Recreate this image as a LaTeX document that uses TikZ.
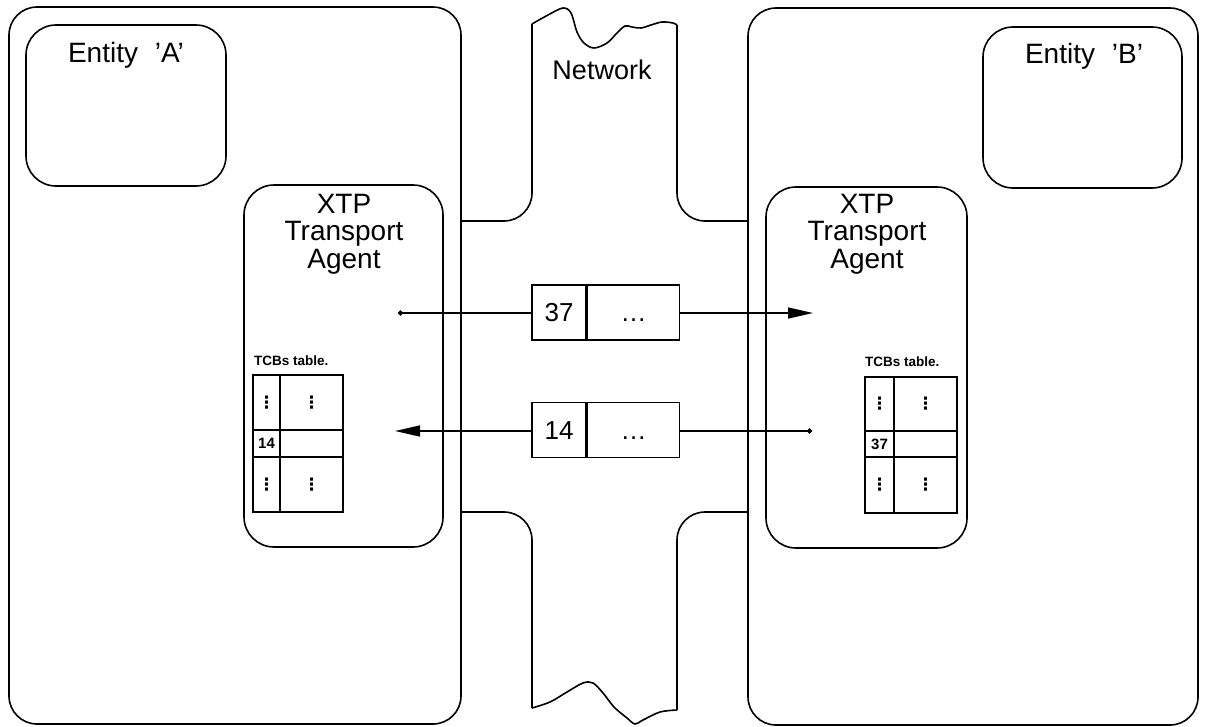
\documentclass[tikz,border=0pt]{standalone}
\usepackage{fontspec}
\setmainfont{Liberation Sans}
\newfontfamily\dotsfont{DejaVu Sans}
\usetikzlibrary{arrows.meta}
\begin{document}
\begin{tikzpicture}[x=1pt,y=-1pt,
  hostbox/.style={draw, line width=1.6pt, rectangle, rounded corners=28pt, inner sep=0pt},
  subbox/.style={draw, line width=1.6pt, rectangle, rounded corners=30pt, inner sep=0pt},
  netline/.style={draw, line width=1.6pt, rounded corners=28pt},
  netwave/.style={draw, line width=1.6pt},
  biglabel/.style={font=\fontsize{28}{28}\selectfont, inner sep=0pt, anchor=base},
  pktcell/.style={draw, line width=1.6pt, rectangle, fill=white, inner sep=0pt,
    minimum height=55pt, font=\fontsize{26}{26}\selectfont, text height=18pt, text depth=0pt},
  tcell/.style={draw, line width=1.5pt, rectangle, inner sep=0pt},
  tdots/.style={font=\dotsfont\bfseries\fontsize{17}{17}\selectfont},
  tnum/.style={font=\fontsize{15}{15}\bfseries\selectfont},
  tlabel/.style={font=\fontsize{13.5}{13.5}\bfseries\selectfont, inner sep=0pt, anchor=west},
  msg/.style={line width=1.4pt},
]
\useasboundingbox (0,0) rectangle (1206,726);

% hosts
\node[hostbox, minimum width=452pt, minimum height=717pt] (hostA) at (235,365.5) {};
\node[hostbox, minimum width=450pt, minimum height=717pt] (hostB) at (973,366.5) {};

% entities
\node[subbox, minimum width=200pt, minimum height=161pt] (entA) at (126,105.5) {};
\node[subbox, minimum width=199pt, minimum height=161pt] (entB) at (1082.5,107.5) {};
\node[biglabel] (entAlabel) at (126,62) {Entity\hspace{0.6em}'A'};
\node[biglabel] (entBlabel) at (1084,63) {Entity\hspace{0.6em}'B'};

% transport agents
\node[subbox, minimum width=199pt, minimum height=362pt] (xtpA) at (343.5,366) {};
\node[subbox, minimum width=201pt, minimum height=361pt] (xtpB) at (866.5,367.5) {};
\node[biglabel] (xtpA1) at (344,213) {XTP};
\node[biglabel] (xtpA2) at (344,240) {Transport};
\node[biglabel] (xtpA3) at (344,268) {Agent};
\node[biglabel] (xtpB1) at (867,213) {XTP};
\node[biglabel] (xtpB2) at (867,240) {Transport};
\node[biglabel] (xtpB3) at (867,268) {Agent};

% network
\path[netline] (hostA.east |- 0,221) -- (532,221) -- (532,24);
\path[netline] (hostB.west |- 0,221) -- (677,221) -- (677,25);
\path[netline] (hostA.east |- 0,512) -- (532,512) -- (532,708);
\path[netline] (hostB.west |- 0,512) -- (677,512) -- (677,710);
\path[netwave] plot[smooth, tension=0.55] coordinates {(532,24) (548,15) (563,8) (571,13) (577,32) (584,43) (594,48) (607,43) (617,33) (625,26) (632,27) (641,28) (651,25) (662,22) (673,23) (677,25)};
\path[netwave] plot[smooth, tension=0.55] coordinates {(532,708) (550,702) (567,692) (583,683) (593,683) (603,693) (614,707) (627,718) (635,724) (643,720) (660,712) (677,710)};
\node[font=\fontsize{27}{27}\selectfont, inner sep=0pt, anchor=base] (netlabel) at (602,79) {Network};

% messages
\coordinate (m1s) at (398,313);
\coordinate (m1e) at (813,313);
\coordinate (m2s) at (812,431);
\coordinate (m2e) at (395,431);
\node[pktcell, minimum width=54pt] (p1id) at (559,312.5) {37};
\node[pktcell, minimum width=92pt, anchor=west] (p1rest) at (p1id.east) {\dots};
\node[pktcell, minimum width=54pt] (p2id) at (559,430) {14};
\node[pktcell, minimum width=92pt, anchor=west] (p2rest) at (p2id.east) {\dots};
\draw[msg, {Circle[length=5pt]}-] (m1s) -- (m1s -| p1id.west);
\draw[msg, -{Triangle[length=25pt,width=11pt]}] (m1s -| p1rest.east) -- (m1e);
\draw[msg, {Circle[length=5pt]}-] (m2s) -- (m2s -| p2rest.east);
\draw[msg, -{Triangle[length=25pt,width=11pt]}] (m2s -| p2id.west) -- (m2e);

% TCB table A
\node[tlabel] (tblAlabel) at (254,361) {TCBs table.};
\node[tcell, minimum width=27pt, minimum height=55pt, tdots] (tA11) at (266.5,402.5) {⋮};
\node[tcell, minimum width=63pt, minimum height=55pt, tdots] (tA12) at (311.5,402.5) {⋮};
\node[tcell, minimum width=27pt, minimum height=27pt, tnum] (tA21) at (266.5,443.5) {14};
\node[tcell, minimum width=63pt, minimum height=27pt] (tA22) at (311.5,443.5) {};
\node[tcell, minimum width=27pt, minimum height=55pt, tdots] (tA31) at (266.5,484.5) {⋮};
\node[tcell, minimum width=63pt, minimum height=55pt, tdots] (tA32) at (311.5,484.5) {⋮};

% TCB table B
\node[tlabel] (tblBlabel) at (865,362) {TCBs table.};
\node[tcell, minimum width=29pt, minimum height=54pt, tdots] (tB11) at (879.5,404) {⋮};
\node[tcell, minimum width=63pt, minimum height=54pt, tdots] (tB12) at (925.5,404) {⋮};
\node[tcell, minimum width=29pt, minimum height=26pt, tnum] (tB21) at (879.5,444) {37};
\node[tcell, minimum width=63pt, minimum height=26pt] (tB22) at (925.5,444) {};
\node[tcell, minimum width=29pt, minimum height=56pt, tdots] (tB31) at (879.5,485) {⋮};
\node[tcell, minimum width=63pt, minimum height=56pt, tdots] (tB32) at (925.5,485) {⋮};
\end{tikzpicture}
\end{document}
